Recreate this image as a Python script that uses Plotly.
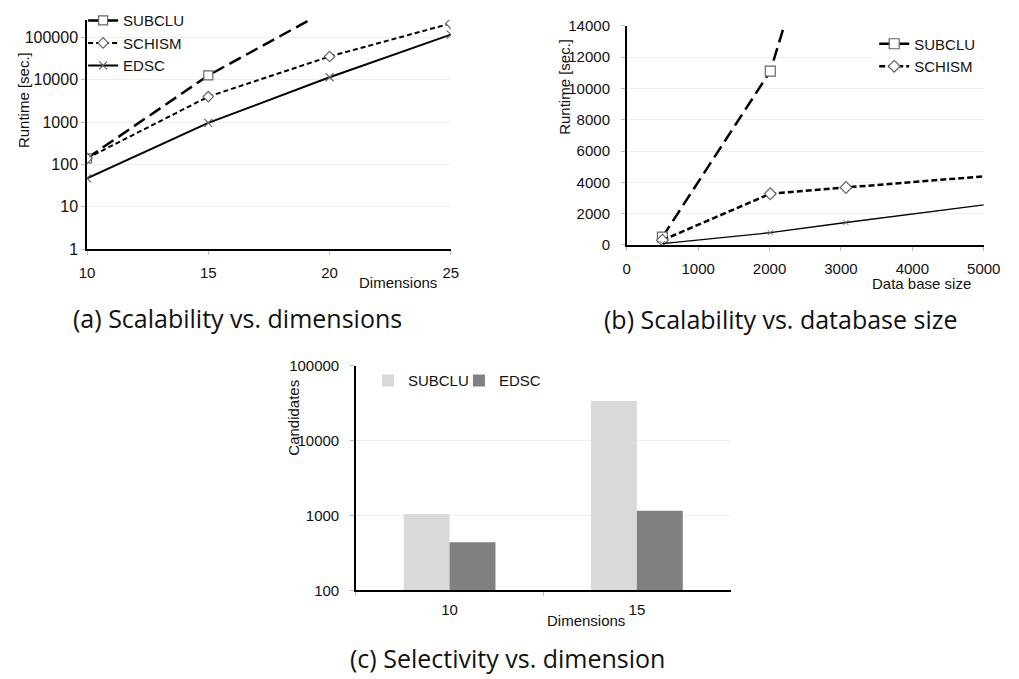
import plotly.graph_objects as go

W, H = 1019, 679

# (a) runtime vs. number of dimensions
dims = [10, 15, 20, 25]
subclu_dim = [140, 12700, 470000]
schism_dim = [140, 4000, 35600, 215000]
edsc_dim = [47, 960, 11500, 117000]
log_ticks_a = [1, 10, 100, 1000, 10000, 100000]

# (b) runtime vs. database size
db_sizes = [500, 2010, 3070, 6000]
subclu_db = [500, 11100, 26900]
schism_db = [300, 3270, 3670, 4750]
edsc_db = [80, 780, 1430, 3130]

# (c) number of candidates per dimensionality
cand_dims = ["10", "15"]
subclu_cand = [1050, 33700]
edsc_cand = [440, 1160]
log_ticks_c = [100, 1000, 10000, 100000]


def fx(px):
    return px / W


def fy(py):
    return 1 - py / H


CHART_FONT = "Liberation Sans, Arial, sans-serif"
CAPTION_FONT = "Open Sans, sans-serif"
MARKER_EDGE = "#666666"

fig = go.Figure()

# ---- (a) ----
fig.add_trace(go.Scatter(
    x=dims[:len(subclu_dim)], y=subclu_dim, name="SUBCLU", xaxis="x", yaxis="y",
    mode="lines+markers", legend="legend",
    line=dict(color="black", width=2.5, dash="13px,6px"),
    marker=dict(symbol="square", size=9, color="white",
                line=dict(color=MARKER_EDGE, width=1.2)),
))
fig.add_trace(go.Scatter(
    x=dims, y=schism_dim, name="SCHISM", xaxis="x", yaxis="y",
    mode="lines+markers", legend="legend",
    line=dict(color="black", width=2, dash="5px,3px"),
    marker=dict(symbol="diamond", size=8, color="white",
                line=dict(color=MARKER_EDGE, width=1.2)),
))
fig.add_trace(go.Scatter(
    x=dims, y=edsc_dim, name="EDSC", xaxis="x", yaxis="y",
    mode="lines+markers", legend="legend",
    line=dict(color="black", width=2),
    marker=dict(symbol="x-thin", size=8, color=MARKER_EDGE,
                line=dict(color=MARKER_EDGE, width=1.2)),
))

# ---- (b) ----
fig.add_trace(go.Scatter(
    x=db_sizes[:len(subclu_db)], y=subclu_db, name="SUBCLU", xaxis="x2", yaxis="y2",
    mode="lines+markers", legend="legend2",
    line=dict(color="black", width=2.5, dash="13px,6px"),
    marker=dict(symbol="square", size=10, color="white",
                line=dict(color=MARKER_EDGE, width=1.2)),
))
fig.add_trace(go.Scatter(
    x=db_sizes, y=schism_db, name="SCHISM", xaxis="x2", yaxis="y2",
    mode="lines+markers", legend="legend2",
    line=dict(color="black", width=2.5, dash="6px,3px"),
    marker=dict(symbol="diamond", size=9, color="white",
                line=dict(color=MARKER_EDGE, width=1.2)),
))
fig.add_trace(go.Scatter(
    x=db_sizes, y=edsc_db, name="EDSC", xaxis="x2", yaxis="y2",
    mode="lines+markers", showlegend=False,
    line=dict(color="black", width=1.3),
    marker=dict(symbol="x-thin", size=5, color=MARKER_EDGE,
                line=dict(color=MARKER_EDGE, width=1)),
))

# ---- (c) ----
fig.add_trace(go.Bar(
    x=cand_dims, y=subclu_cand, name="SUBCLU", xaxis="x3", yaxis="y3",
    legend="legend3", marker=dict(color="#d9d9d9", line=dict(width=0)),
))
fig.add_trace(go.Bar(
    x=cand_dims, y=edsc_cand, name="EDSC", xaxis="x3", yaxis="y3",
    legend="legend3", marker=dict(color="#808080", line=dict(width=0)),
))

axis_common = dict(
    showline=True, linecolor="black", linewidth=1.5,
    ticks="outside", ticklen=4, tickcolor="#bbbbbb", tickwidth=1,
    zeroline=False,
)
tick_font = dict(size=15, color="#111111")

fig.update_layout(
    width=W, height=H, autosize=False,
    margin=dict(l=0, r=0, t=0, b=0),
    paper_bgcolor="white", plot_bgcolor="white",
    font=dict(family=CHART_FONT, size=15, color="#111111"),
    barmode="group", bargap=0.51, bargroupgap=0,
    xaxis=dict(domain=[fx(81), fx(454)], anchor="y", range=[10, 25],
               tickvals=dims, showgrid=False, ticklabelstandoff=5,
               tickfont=tick_font, **axis_common),
    yaxis=dict(domain=[fy(246.7), fy(11)], anchor="x", type="log", range=[0, 5.42],
               tickvals=log_ticks_a, ticktext=[str(v) for v in log_ticks_a],
               showgrid=True, gridcolor="#efefef", ticklabelstandoff=0,
               tickfont=dict(size=16, color="#111111"), **axis_common),
    xaxis2=dict(domain=[fx(634.3), fx(1000.3)], anchor="y2", range=[0, 5000],
                dtick=1000, tickformat="d", showgrid=False, ticklabelstandoff=5,
                tickfont=tick_font, **axis_common),
    yaxis2=dict(domain=[fy(242.3), fy(17.3)], anchor="x2", range=[0, 14000],
                dtick=2000, tickformat="d", showgrid=True, gridcolor="#efefef",
                ticklabelstandoff=8, tickfont=tick_font, **axis_common),
    xaxis3=dict(domain=[fx(356.7), fx(740.7)], anchor="y3", type="category",
                range=[-0.5, 1.5], tickson="boundaries", showgrid=False,
                ticklabelstandoff=5, tickfont=tick_font, **axis_common),
    yaxis3=dict(domain=[fy(597.3), fy(366.3)], anchor="x3", type="log", range=[2, 5],
                tickvals=log_ticks_c, ticktext=[str(v) for v in log_ticks_c],
                showgrid=True, gridcolor="#efefef", ticklabelstandoff=8,
                tickfont=tick_font, **axis_common),
    legend=dict(x=fx(77), y=fy(-5), xanchor="left", yanchor="top",
                bgcolor="rgba(255,255,255,0)", itemwidth=30,
                font=dict(size=15, color="#111111"), tracegroupgap=0),
    legend2=dict(x=fx(888), y=fy(19), xanchor="left", yanchor="top",
                 bgcolor="white", itemwidth=30,
                 font=dict(size=15, color="#111111"), tracegroupgap=0),
    legend3=dict(x=fx(369), y=fy(365), xanchor="left", yanchor="top",
                 orientation="h", bgcolor="rgba(255,255,255,0)", itemwidth=30,
                 entrywidth=46, font=dict(size=15, color="#111111")),
)

# axis titles and panel captions
notes = [
    dict(text="Runtime [sec.]", x=fx(16), y=fy(94), textangle=-90, size=15, font=CHART_FONT),
    dict(text="Dimensions", x=fx(400), y=fy(281), textangle=0, size=15, font=CHART_FONT),
    dict(text="Runtime [sec.]", x=fx(571), y=fy(80), textangle=-90, size=15, font=CHART_FONT),
    dict(text="Data base size", x=fx(936), y=fy(282), textangle=0, size=15, font=CHART_FONT),
    dict(text="Candidates", x=fx(293), y=fy(420), textangle=-90, size=15, font=CHART_FONT),
    dict(text="Dimensions", x=fx(593), y=fy(628), textangle=0, size=15, font=CHART_FONT),
    dict(text="(a) Scalability vs. dimensions", x=fx(235), y=fy(317), textangle=0,
         size=25, font=CAPTION_FONT),
    dict(text="(b) Scalability vs. database size", x=fx(792), y=fy(318), textangle=0,
         size=25, font=CAPTION_FONT),
    dict(text="(c) Selectivity vs. dimension", x=fx(512), y=fy(667), textangle=0,
         size=25, font=CAPTION_FONT),
]
for n in notes:
    fig.add_annotation(
        text=n["text"], x=n["x"], y=n["y"], xref="paper", yref="paper",
        xanchor="center", yanchor="middle", showarrow=False, textangle=n["textangle"],
        font=dict(family=n["font"], size=n["size"], color="#111111"),
    )

fig.write_html("out.html")
